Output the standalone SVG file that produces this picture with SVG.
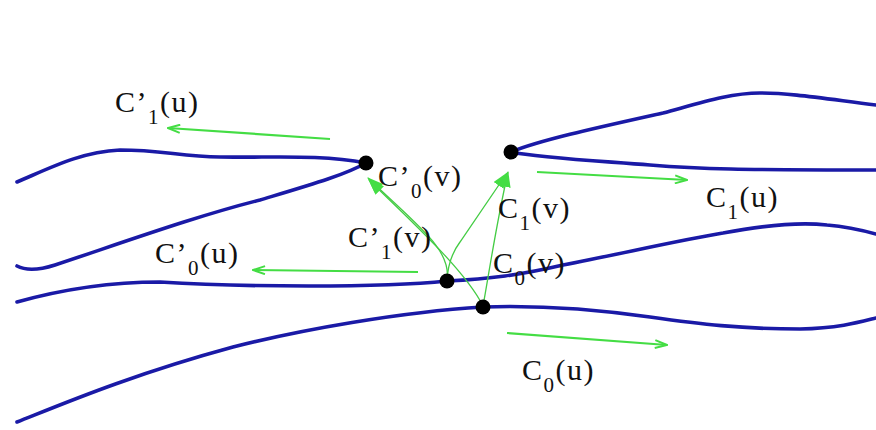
<svg xmlns="http://www.w3.org/2000/svg" width="876" height="430" viewBox="0 0 876 430">
<defs>
<style>
.blue{fill:none;stroke:#1a1aa6;stroke-width:3.6;stroke-linecap:round;stroke-linejoin:round}
.garrow{fill:none;stroke:#44dd44;stroke-width:2.2}
.gcurve{fill:none;stroke:#44cc44;stroke-width:1.3}
.dot{fill:#000}
.lbl{font-family:"Liberation Serif","Times New Roman",serif;font-size:30px;fill:#111;letter-spacing:1.5px}
.sub{font-size:21px}
</style>
<marker id="openHead" viewBox="0 0 14 10" refX="13" refY="5" markerWidth="14" markerHeight="10" markerUnits="userSpaceOnUse" orient="auto">
<path d="M1,1 L13,5 L1,9" fill="none" stroke="#44dd44" stroke-width="2"/>
</marker>
<marker id="solidHead" viewBox="0 0 16 12" refX="15" refY="6" markerWidth="16" markerHeight="12" markerUnits="userSpaceOnUse" orient="auto">
<path d="M0,0 L16,6 L0,12 Z" fill="#44dd44"/>
</marker>
</defs>
<rect width="876" height="430" fill="#ffffff"/>

<g id="surfaces">
<path class="blue" d="M17,182 C50,168 80,152 120,150 C160,150 180,156 220,157 C270,158 320,154 366,163"/>
<path class="blue" d="M17,266 Q30,273 55,265 C130,240 200,215 260,200 C310,185 345,175 366,163"/>
<path class="blue" d="M17,302 C60,290 110,282 160,282 C240,287 380,288 447,281 C490,279 520,275 563,265 C620,254 680,240 723,233 C760,226 800,222 827,225 C850,227 865,231 876,234"/>
<path class="blue" d="M17,422 C60,405 130,375 233,347 C300,330 400,312 483,307 C540,305 600,310 650,317 C700,324 740,329 800,329 C840,328 860,322 876,318"/>
<path class="blue" d="M511,152 C540,140 600,127 663,113 C700,103 730,93 760,93 C790,93 820,98 876,105"/>
<path class="blue" d="M511,152 C540,158 600,161 650,165 C700,169 740,170 876,170"/>
</g>

<g id="connectors">
<path class="garrow" d="M330,139 L168,128" marker-end="url(#openHead)"/>
<path class="garrow" d="M537,172 L687,180" marker-end="url(#openHead)"/>
<path class="garrow" d="M418,272 L253,270" marker-end="url(#openHead)"/>
<path class="garrow" d="M507,333 L667,345" marker-end="url(#openHead)"/>
<path class="gcurve" d="M447,281 C452,250 420,228 368,178" marker-end="url(#solidHead)"/>
<path class="gcurve" d="M483,306 C465,270 410,220 369,180" marker-end="url(#solidHead)"/>
<path class="gcurve" d="M447,281 Q448,258 460,242 L507,173" marker-end="url(#solidHead)"/>
<path class="gcurve" d="M483,306 C488,280 495,230 508,172" marker-end="url(#solidHead)"/>
</g>

<g id="point-c0v-prime"><circle class="dot" cx="366" cy="163" r="7.5"/></g>
<g id="point-c1v"><circle class="dot" cx="511" cy="152" r="7.5"/></g>
<g id="point-mid"><circle class="dot" cx="447" cy="281" r="7.5"/></g>
<g id="point-low"><circle class="dot" cx="483" cy="307" r="7.5"/></g>

<g id="label-c1u-prime"><text class="lbl" x="115" y="112">C’<tspan class="sub" dy="12">1</tspan><tspan dy="-12">(u)</tspan></text></g>
<g id="label-c0v-prime"><text class="lbl" x="378" y="186">C’<tspan class="sub" dy="12">0</tspan><tspan dy="-12">(v)</tspan></text></g>
<g id="label-c1u"><text class="lbl" x="706" y="207">C<tspan class="sub" dy="12">1</tspan><tspan dy="-12">(u)</tspan></text></g>
<g id="label-c1v"><text class="lbl" x="498" y="218">C<tspan class="sub" dy="12">1</tspan><tspan dy="-12">(v)</tspan></text></g>
<g id="label-c1v-prime"><text class="lbl" x="348" y="247">C’<tspan class="sub" dy="12">1</tspan><tspan dy="-12">(v)</tspan></text></g>
<g id="label-c0u-prime"><text class="lbl" x="155" y="263">C’<tspan class="sub" dy="12">0</tspan><tspan dy="-12">(u)</tspan></text></g>
<g id="label-c0v"><text class="lbl" x="493" y="273">C<tspan class="sub" dy="12">0</tspan><tspan dy="-12">(v)</tspan></text></g>
<g id="label-c0u"><text class="lbl" x="522" y="380">C<tspan class="sub" dy="12">0</tspan><tspan dy="-12">(u)</tspan></text></g>
</svg>
